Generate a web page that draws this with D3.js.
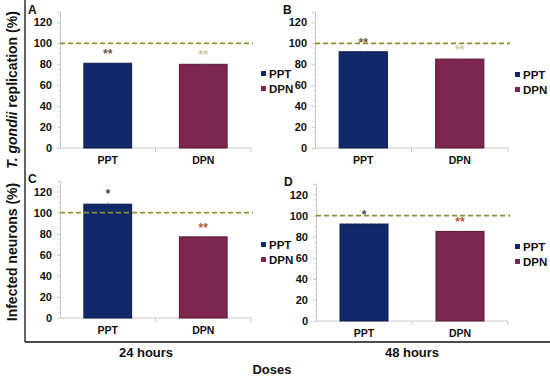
<!DOCTYPE html>
<html>
<head>
<meta charset="utf-8">
<script src="https://cdn.jsdelivr.net/npm/d3@7"></script>
<style>
  body { margin: 0; background: #fff; }
  svg { font-family: Arial, "Liberation Sans", sans-serif; }
</style>
</head>
<body>
<svg id="chart" width="550" height="388"></svg>
<script>
// data
var doses = ["PPT", "DPN"];
var replication24 = [81, 80];
var replication48 = [92, 85];
var neurons24 = [108, 77];
var neurons48 = [92, 85];
var errA = [1, 0.8], errB = [1, 1], errC = [2, 1], errD = [1, 1];
var starsA = ["**", "**"], starsB = ["**", "**"], starsC = ["*", "**"], starsD = ["*", "**"];
var yTicks = [0, 20, 40, 60, 80, 100, 120];
var controlLevel = 100;

var colors = {PPT: "#11286b", DPN: "#7c264e"};
var strokeCol = {PPT: "#0a1a4a", DPN: "#5a1a38"};

var svg = d3.select("#chart");

// panel layout
var panels = [
  {label: "A", vals: replication24, err: errA, stars: starsA, starCol: ["#6b5a4a", "#d9c3a0"],
   x0: 60, x1: 251, yBot: 148, yTop: 12, legX: 261, legY: 78},
  {label: "B", vals: replication48, err: errB, stars: starsB, starCol: ["#7a5a3a", "#e0c8a0"],
   x0: 315, x1: 508, yBot: 148, yTop: 12, legX: 515, legY: 79},
  {label: "C", vals: neurons24, err: errC, stars: starsC, starCol: ["#3a3a5a", "#b0603a"],
   x0: 60, x1: 251, yBot: 318, yTop: 181, legX: 261, legY: 249},
  {label: "D", vals: neurons48, err: errD, stars: starsD, starCol: ["#4a4a5a", "#b05a3a"],
   x0: 316, x1: 508, yBot: 321, yTop: 184, legX: 515, legY: 251}
];

panels.forEach(function (p) {
  var y = d3.scaleLinear().domain([0, 130]).range([p.yBot, p.yTop]);
  var x = d3.scaleBand().domain(doses).range([p.x0, p.x1]).paddingInner(0.5).paddingOuter(0.25);
  var g = svg.append("g");

  // y axis
  var yAxis = g.append("g").attr("transform", "translate(" + p.x0 + ",0)")
    .call(d3.axisLeft(y).tickValues(yTicks).tickSize(3).tickPadding(5));
  yAxis.select(".domain").attr("stroke", "#c8c8c8");
  yAxis.selectAll(".tick line").attr("stroke", "#c8c8c8");
  yAxis.selectAll("text").attr("font-size", 11).attr("font-weight", "bold").attr("fill", "#111");
  // minor ticks
  g.selectAll(".minor").data(d3.range(0, 131, 5)).enter().append("line")
    .attr("x1", p.x0 - 2).attr("x2", p.x0)
    .attr("y1", function (d) { return y(d); }).attr("y2", function (d) { return y(d); })
    .attr("stroke", "#dddddd");

  // x axis
  g.append("line").attr("x1", p.x0).attr("x2", p.x1).attr("y1", y(0)).attr("y2", y(0))
    .attr("stroke", "#c8c8c8");
  var step = x.step();
  [p.x0 + step, p.x1].forEach(function (xx) {
    g.append("line").attr("x1", xx).attr("x2", xx).attr("y1", y(0)).attr("y2", y(0) + 4)
      .attr("stroke", "#c8c8c8");
  });
  g.selectAll(".xl").data(doses).enter().append("text")
    .attr("x", function (d) { return x(d) + x.bandwidth() / 2; })
    .attr("y", y(0) + 16)
    .attr("text-anchor", "middle").attr("font-size", 10.5).attr("font-weight", "bold")
    .attr("fill", "#111").text(function (d) { return d; });

  // bars
  g.selectAll(".bar").data(doses).enter().append("rect")
    .attr("x", function (d) { return x(d); })
    .attr("width", x.bandwidth())
    .attr("y", function (d, i) { return y(p.vals[i]); })
    .attr("height", function (d, i) { return y(0) - y(p.vals[i]); })
    .attr("fill", function (d) { return colors[d]; })
    .attr("stroke", function (d) { return strokeCol[d]; }).attr("stroke-width", 1);

  // error bars
  g.selectAll(".err").data(doses).enter().append("line")
    .attr("x1", function (d) { return x(d) + x.bandwidth() / 2; })
    .attr("x2", function (d) { return x(d) + x.bandwidth() / 2; })
    .attr("y1", function (d, i) { return y(p.vals[i] + p.err[i]); })
    .attr("y2", function (d, i) { return y(p.vals[i]); })
    .attr("stroke", "#999");

  // control dashed line
  g.append("line").attr("x1", p.x0).attr("x2", p.x1 + 2)
    .attr("y1", y(controlLevel)).attr("y2", y(controlLevel))
    .attr("stroke", "#8f8f2e").attr("stroke-width", 1.6).attr("stroke-dasharray", "5,3");

  // significance stars
  g.selectAll(".star").data(doses).enter().append("text")
    .attr("x", function (d) { return x(d) + x.bandwidth() / 2; })
    .attr("y", function (d, i) { return y(p.vals[i] + p.err[i]) - 4; })
    .attr("text-anchor", "middle").attr("font-size", 12).attr("font-weight", "bold")
    .attr("fill", function (d, i) { return p.starCol[i]; })
    .text(function (d, i) { return p.stars[i]; });

  // panel letter
  g.append("text").attr("x", p.x0 - 32).attr("y", p.yTop + 2)
    .attr("font-size", 12).attr("font-weight", "bold").attr("fill", "#111").text(p.label);

  // legend
  doses.forEach(function (d, i) {
    g.append("rect").attr("x", p.legX).attr("y", p.legY + i * 15 - 7).attr("width", 5).attr("height", 5)
      .attr("fill", colors[d]);
    g.append("text").attr("x", p.legX + 8).attr("y", p.legY + i * 15)
      .attr("font-size", 11.5).attr("font-weight", "bold").attr("fill", "#111").text(d);
  });
});

// outer frame
svg.append("line").attr("x1", 25).attr("x2", 25).attr("y1", 0).attr("y2", 342)
  .attr("stroke", "#111").attr("stroke-width", 1.3);
svg.append("line").attr("x1", 25).attr("x2", 550).attr("y1", 342).attr("y2", 342)
  .attr("stroke", "#111").attr("stroke-width", 1.3);

// y titles
var t1 = svg.append("text").attr("transform", "translate(17,90) rotate(-90)")
  .attr("text-anchor", "middle").attr("font-size", 14).attr("font-weight", "bold").attr("fill", "#111");
t1.append("tspan").attr("font-style", "italic").text("T. gondii");
t1.append("tspan").text(" replication (%)");
svg.append("text").attr("transform", "translate(17,252) rotate(-90)")
  .attr("text-anchor", "middle").attr("font-size", 14).attr("font-weight", "bold").attr("fill", "#111")
  .text("Infected neurons (%)");

// x titles
svg.append("text").attr("x", 146).attr("y", 357).attr("text-anchor", "middle")
  .attr("font-size", 13).attr("font-weight", "bold").attr("fill", "#111").text("24 hours");
svg.append("text").attr("x", 412).attr("y", 357).attr("text-anchor", "middle")
  .attr("font-size", 13).attr("font-weight", "bold").attr("fill", "#111").text("48 hours");
svg.append("text").attr("x", 272).attr("y", 374).attr("text-anchor", "middle")
  .attr("font-size", 13).attr("font-weight", "bold").attr("fill", "#111").text("Doses");
</script>
</body>
</html>
